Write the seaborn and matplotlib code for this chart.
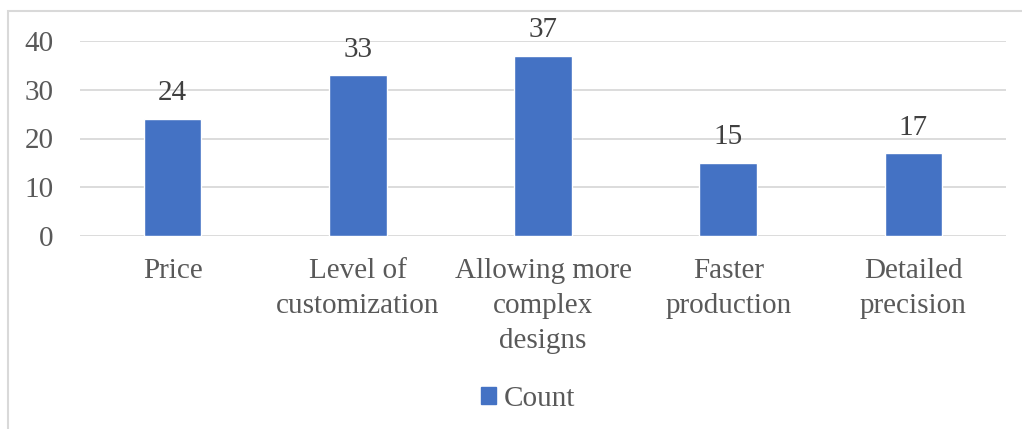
import pandas as pd
import seaborn as sns
import matplotlib.pyplot as plt
from matplotlib.patches import Rectangle, Patch

categories = ["Price", "Level of\ncustomization", "Allowing more\ncomplex\ndesigns",
              "Faster\nproduction", "Detailed\nprecision"]
counts = [24, 33, 37, 15, 17]
y_ticks = [0, 10, 20, 30, 40]
series_name = "Count"

bar_color = "#4472C4"
text_color = "#595959"
fs = 21

sns.set_theme(style="white")
plt.rcParams['font.family'] = ['Liberation Serif', 'DejaVu Serif']

df = pd.DataFrame({"category": categories, "count": counts})

fig = plt.figure(figsize=(10.22, 4.29), dpi=100)
ax = fig.add_axes([80 / 1022, 1 - 236 / 429, 926 / 1022, 195 / 429])

sns.barplot(data=df, x="category", y="count", color=bar_color, width=0.31,
            saturation=1, ax=ax, zorder=3)

# value labels above bars
for i, v in enumerate(counts):
    ax.annotate(str(v), (i, v), xytext=(0, 9), textcoords="offset points",
                ha="center", va="bottom", fontsize=fs, color="#404040")

ax.set_ylim(0, 40)
ax.set_xlim(-0.5, len(categories) - 0.5)
ax.set_yticks(y_ticks)
ax.tick_params(axis="y", labelsize=fs, labelcolor=text_color, length=0, pad=19)
ax.tick_params(axis="x", labelsize=fs, labelcolor=text_color, length=0, pad=16)
ax.set_xlabel("")
ax.set_ylabel("")
ax.grid(axis="y", color="#D9D9D9", linewidth=1.3, zorder=0)
for s in ax.spines.values():
    s.set_visible(False)
for lbl in ax.get_xticklabels():
    lbl.set_linespacing(1.45)

# legend at bottom
handles = [Patch(facecolor=bar_color, edgecolor=bar_color)]
fig.legend(handles, [series_name], loc="center", bbox_to_anchor=(528 / 1022, 1 - 399 / 429),
           frameon=False, fontsize=fs, handlelength=0.52, handleheight=0.52,
           handletextpad=0.28, labelcolor=text_color)

# chart frame
fig.patches.append(Rectangle((8 / 1022, -0.1), 1.2, 1 - 11 / 429 + 0.1,
                             transform=fig.transFigure, fill=False,
                             edgecolor="#D9D9D9", linewidth=1.5))

fig.savefig("out.png", dpi=100)
